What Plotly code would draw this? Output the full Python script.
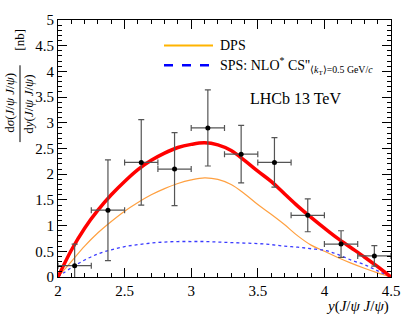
import plotly.graph_objects as go

# measured points (bin centres, value, error)
y_bins = [2.125, 2.375, 2.625, 2.875, 3.125, 3.375, 3.625, 3.875, 4.125, 4.375]
xsec = [0.22, 1.30, 2.23, 2.10, 2.90, 2.39, 2.23, 1.20, 0.64, 0.41]
xsec_err = [0.42, 0.98, 0.83, 0.71, 0.74, 0.56, 0.48, 0.32, 0.26, 0.20]
bin_halfwidth = [0.125] * 10

# theory curves
y_grid = [2.0, 2.1, 2.2, 2.3, 2.4, 2.5, 2.6, 2.7, 2.8, 2.9, 3.0, 3.1, 3.2,
          3.3, 3.4, 3.5, 3.6, 3.7, 3.8, 3.9, 4.0, 4.1, 4.2, 4.3, 4.4, 4.5]
sps = [0.0, 0.18, 0.33, 0.45, 0.53, 0.59, 0.63, 0.66, 0.68, 0.69, 0.69, 0.69, 0.68,
       0.67, 0.66, 0.65, 0.63, 0.60, 0.58, 0.55, 0.52, 0.44, 0.33, 0.24, 0.12, 0.0]
dps = [0.0, 0.30, 0.60, 0.86, 1.08, 1.28, 1.45, 1.60, 1.72, 1.82, 1.89, 1.93, 1.90,
       1.80, 1.62, 1.41, 1.22, 1.02, 0.80, 0.62, 0.50, 0.38, 0.27, 0.17, 0.08, 0.0]
total = [0.0, 0.52, 0.95, 1.30, 1.60, 1.86, 2.09, 2.27, 2.41, 2.52, 2.58, 2.61, 2.57,
         2.46, 2.27, 2.06, 1.86, 1.62, 1.38, 1.16, 0.95, 0.75, 0.57, 0.39, 0.20, 0.0]

legend_labels = ["DPS", "SPS: NLO<sup>*</sup> CS''<sub>⟨<i>k</i><sub>T</sub>⟩=0.5 GeV/<i>c</i></sub>"]

SERIF = "Liberation Serif"

fig = go.Figure()

fig.add_trace(go.Scatter(x=y_grid, y=dps, mode="lines", line=dict(color="#ffa040", width=1.2),
                         line_shape="spline", showlegend=False))
fig.add_trace(go.Scatter(x=y_grid, y=sps, mode="lines", line=dict(color="#3a3aff", width=1.3, dash="dot"),
                         line_shape="spline", showlegend=False))
fig.add_trace(go.Scatter(x=y_grid, y=total, mode="lines", line=dict(color="#ff0000", width=3.5),
                         line_shape="spline", showlegend=False))

fig.add_trace(go.Scatter(
    x=y_bins, y=xsec, mode="markers",
    marker=dict(color="black", size=5),
    error_y=dict(type="data", array=xsec_err, color="#555555", thickness=1.2, width=3),
    error_x=dict(type="data", array=bin_halfwidth, color="#555555", thickness=1.2, width=3),
    showlegend=False,
))

axis_common = dict(
    showline=True, linecolor="black", linewidth=1, mirror="allticks",
    ticks="inside", ticklen=9, tickcolor="black", tickwidth=1,
    showgrid=False, zeroline=False,
    tickfont=dict(family=SERIF, size=15, color="black"),
    minor=dict(ticks="inside", ticklen=4, tickcolor="black", dtick=0.1, showgrid=False),
)

fig.update_xaxes(range=[2, 4.5], dtick=0.5, tick0=2, **axis_common)
fig.update_yaxes(range=[0, 5], dtick=0.5, tick0=0, **axis_common)

# positions given in window pixels; the plot area spans 58..391 x 16..277
def px_x(px):
    return (px - 58) / 333.0

def px_y(py):
    return (277 - py) / 261.0

def label(px, py, text, size=14, angle=0, anchor="center"):
    fig.add_annotation(x=px_x(px), y=px_y(py), xref="paper", yref="paper",
                       xanchor=anchor, yanchor="middle", textangle=angle,
                       text=text, showarrow=False,
                       font=dict(family=SERIF, size=size, color="black"))

label(10, 100, "d<i>σ</i>(<i>J</i>/<i>ψ</i> <i>J</i>/<i>ψ</i>)", size=13, angle=-90)
label(29, 102, "d<i>y</i>(<i>J</i>/<i>ψ</i> <i>J</i>/<i>ψ</i>)", size=13, angle=-90)
fig.add_shape(type="line", xref="paper", yref="paper", x0=px_x(20), x1=px_x(20),
              y0=px_y(62), y1=px_y(140), line=dict(color="black", width=1))
label(20, 36, "[nb]", size=13, angle=-90)

label(391, 307, "<i>y</i>(<i>J</i>/<i>ψ</i> <i>J</i>/<i>ψ</i>)", size=15, anchor="right")
label(295, 96, "LHCb 13 TeV", size=16)

# legend drawn by hand
fig.add_shape(type="line", xref="paper", yref="paper", x0=px_x(164), x1=px_x(213),
              y0=px_y(42), y1=px_y(42), line=dict(color="#ffb400", width=2))
fig.add_shape(type="line", xref="paper", yref="paper", x0=px_x(164), x1=px_x(213),
              y0=px_y(62), y1=px_y(62), line=dict(color="#0000ff", width=2.5, dash="dash"))
label(218, 42, legend_labels[0], anchor="left")
label(218, 62, legend_labels[1], anchor="left")

fig.update_layout(
    width=412, height=329,
    margin=dict(l=58, r=21, t=16, b=52),
    plot_bgcolor="white", paper_bgcolor="white",
    showlegend=False,
)

fig.write_html("out.html", config={"displayModeBar": False},
               post_script="document.body.style.margin = '0';")
